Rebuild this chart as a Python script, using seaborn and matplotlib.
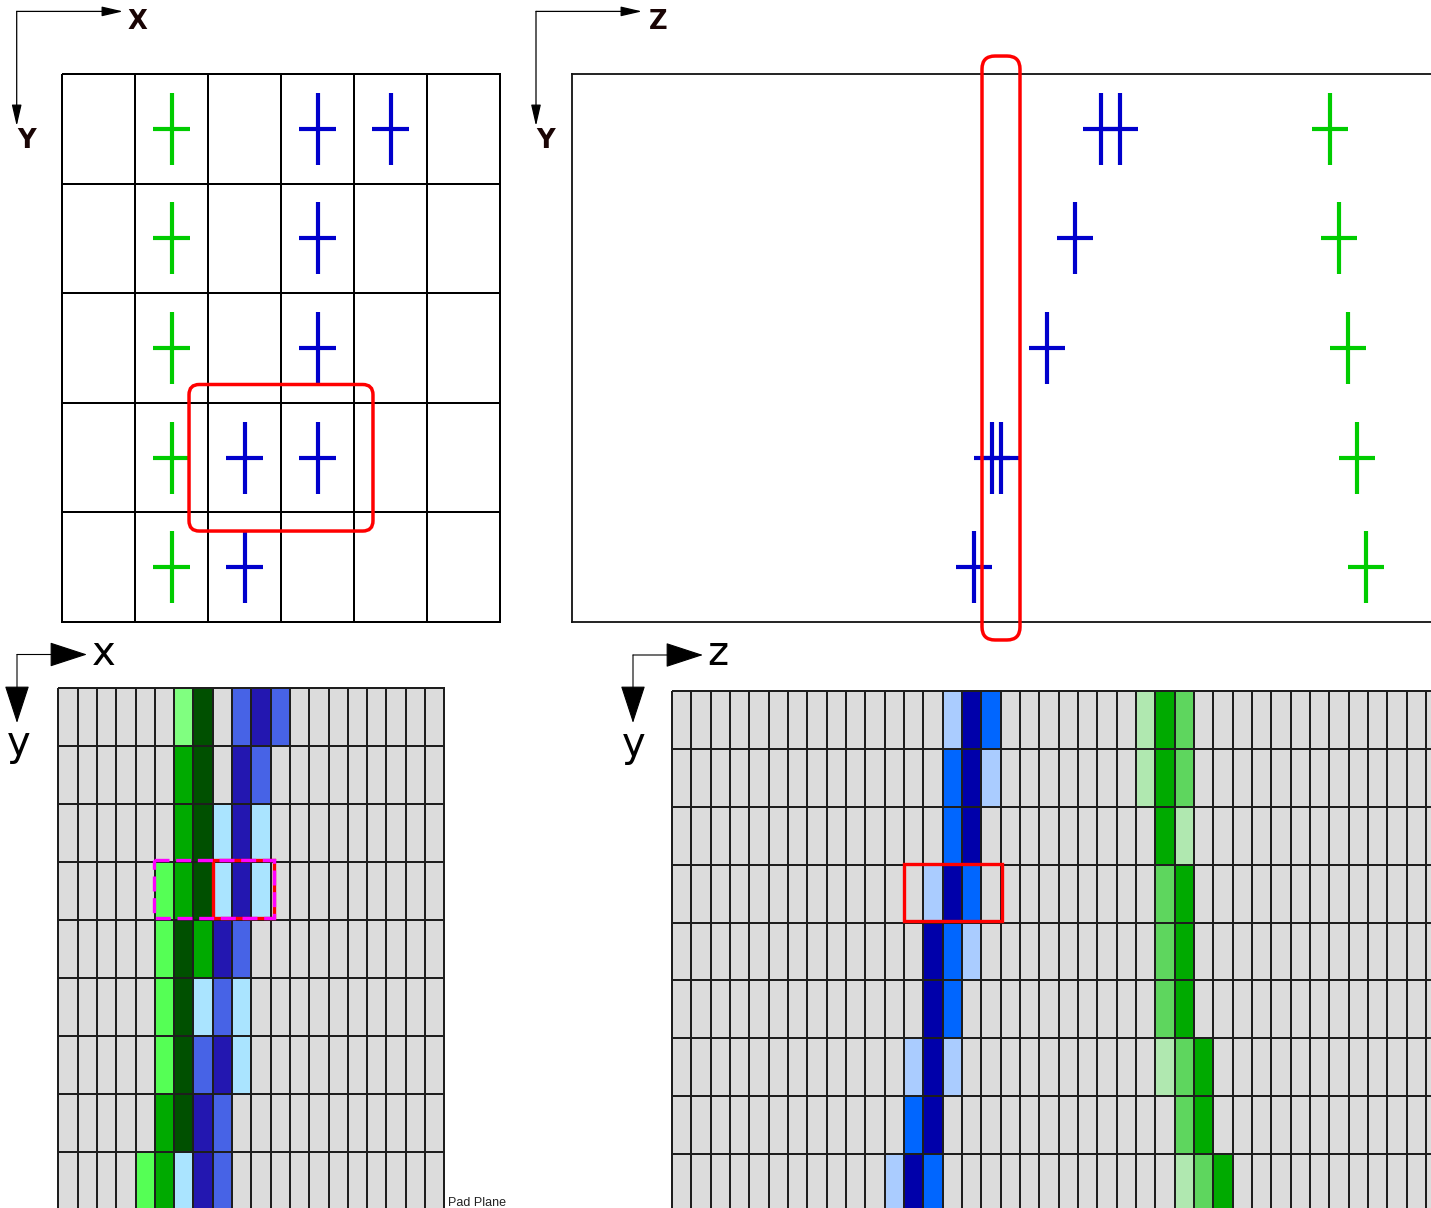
import numpy as np
import matplotlib
matplotlib.use("Agg")
import matplotlib.pyplot as plt
import seaborn as sns
from matplotlib.colors import ListedColormap
from matplotlib.patches import FancyBboxPatch, Rectangle

W, H = 1431, 1208

# top-left: hits in the x-y pad grid (column, row)
tl_green_col = [1, 1, 1, 1, 1]
tl_green_row = [0, 1, 2, 3, 4]
tl_blue_col = [3, 4, 3, 3, 2, 3, 2]
tl_blue_row = [0, 0, 1, 2, 3, 3, 4]

# top-right: same hits along z
tr_green_z = [75.8, 76.7, 77.6, 78.5, 79.4]
tr_green_row = [0, 1, 2, 3, 4]
tr_blue_z = [52.9, 54.8, 50.3, 47.5, 42.0, 42.9, 40.2]
tr_blue_row = [0, 0, 1, 2, 3, 3, 4]

# bottom-left pad plane, (row, col) per charge level
xy_light_green = [(0, 6)]
xy_bright_green = [(3, 5), (4, 5), (5, 5), (6, 5), (8, 4)]
xy_green = [(1, 6), (2, 6), (3, 6), (4, 7), (7, 5), (8, 5)]
xy_dark_green = [(0, 7), (1, 7), (2, 7), (3, 7), (4, 6), (5, 6), (6, 6), (7, 6)]
xy_light_cyan = [(2, 8), (2, 10), (3, 8), (3, 10), (5, 7), (5, 9), (6, 9), (8, 6)]
xy_blue = [(0, 9), (0, 11), (1, 10), (4, 9), (5, 8), (6, 7), (7, 8), (8, 8)]
xy_indigo = [(0, 10), (1, 9), (2, 9), (3, 9), (4, 8), (6, 8), (7, 7), (8, 7)]

# bottom-right z-y view, (row, col) per charge level
zy_light_blue = [(0, 14), (1, 16), (3, 13), (4, 15), (6, 12), (6, 14), (8, 11)]
zy_azure = [(0, 16), (1, 14), (2, 14), (3, 15), (4, 14), (5, 14), (7, 12), (8, 13)]
zy_navy = [(0, 15), (1, 15), (2, 15), (3, 14), (4, 13), (5, 13), (6, 13), (7, 13), (8, 12)]
zy_pale_green = [(0, 24), (1, 24), (2, 26), (6, 25), (8, 26)]
zy_mid_green = [(0, 26), (1, 26), (3, 25), (4, 25), (5, 25), (6, 26), (7, 26), (8, 27)]
zy_green = [(0, 25), (1, 25), (2, 25), (3, 26), (4, 26), (5, 26), (6, 27), (7, 27), (8, 28)]

sns.set_style("white")
plt.rcParams["font.family"] = ["DejaVu Sans"]

fig = plt.figure(figsize=(W / 100, H / 100), dpi=100)


def add_ax(left, top, right, bottom):
    return fig.add_axes([left / W, 1 - bottom / H, (right - left) / W, (bottom - top) / H])


def arrow(ax, start, end, style, ms, lw):
    ax.annotate("", xy=(end[0], H - end[1]), xytext=(start[0], H - start[1]),
                xycoords="figure pixels", textcoords="figure pixels",
                arrowprops=dict(arrowstyle=style, color="black", lw=lw,
                                shrinkA=0, shrinkB=0, mutation_scale=ms),
                annotation_clip=False)


def label(x, y, s, **kw):
    fig.text(x / W, 1 - y / H, s, **kw)


def fill(shape, groups):
    grid = np.zeros(shape, dtype=int)
    for code, cells in enumerate(groups, start=1):
        for r, c in cells:
            grid[r, c] = code
    return grid


cross_green = "#00CC00"
cross_blue = "#0000CC"
cross_lw = 3.0

# ---- top-left: x-y pads with hits
ax_tl = add_ax(62, 74, 500, 622)
sns.heatmap(np.zeros((5, 6)), ax=ax_tl, cmap=ListedColormap(["white"]), cbar=False,
            linewidths=1.1, linecolor="black", xticklabels=False, yticklabels=False)
ax_tl.collections[0].set_clip_on(False)
ax_tl.errorbar(np.array(tl_green_col) + 0.5, np.array(tl_green_row) + 0.5,
               xerr=0.247, yerr=0.328, fmt="none", ecolor=cross_green, elinewidth=cross_lw, capsize=0)
ax_tl.errorbar(np.array(tl_blue_col) + 0.5, np.array(tl_blue_row) + 0.5,
               xerr=0.247, yerr=0.328, fmt="none", ecolor=cross_blue, elinewidth=cross_lw, capsize=0)
ax_tl.add_patch(FancyBboxPatch((1.74, 2.833), 2.52, 1.337,
                               boxstyle="round,pad=0,rounding_size=0.14", mutation_aspect=0.667,
                               fill=False, edgecolor="#FF0000", lw=2.5, zorder=5, clip_on=False))

# ---- top-right: z-y projection
ax_tr = add_ax(572, 74, 1500, 622)
ax_tr.set_xlim(0, 92.8)
ax_tr.set_ylim(5, 0)
ax_tr.set_xticks([])
ax_tr.set_yticks([])
for sp in ax_tr.spines.values():
    sp.set_visible(True)
    sp.set_color("#111111")
    sp.set_linewidth(1.3)
ax_tr.errorbar(tr_green_z, np.array(tr_green_row) + 0.5, xerr=1.8, yerr=0.328,
               fmt="none", ecolor=cross_green, elinewidth=cross_lw, capsize=0)
ax_tr.errorbar(tr_blue_z, np.array(tr_blue_row) + 0.5, xerr=1.8, yerr=0.328,
               fmt="none", ecolor=cross_blue, elinewidth=cross_lw, capsize=0)
ax_tr.add_patch(FancyBboxPatch((41.0, -0.164), 3.8, 5.328,
                               boxstyle="round,pad=0,rounding_size=1.3", mutation_aspect=0.0915,
                               fill=False, edgecolor="#FF0000", lw=2.5, zorder=5, clip_on=False))

# ---- bottom-left: pad plane charges
xy_colors = ["#DCDCDC", "#80FF80", "#55FF55", "#00AA00", "#005000", "#AAE4FF", "#4763E6", "#2317B0"]
xy_grid = fill((9, 20), [xy_light_green, xy_bright_green, xy_green, xy_dark_green,
                         xy_light_cyan, xy_blue, xy_indigo])
ax_bl = add_ax(58.3, 687.5, 444.3, 1209.5)
sns.heatmap(xy_grid, ax=ax_bl, cmap=ListedColormap(xy_colors), vmin=-0.5, vmax=len(xy_colors) - 0.5,
            cbar=False, linewidths=1.4, linecolor="#1e1e1e", xticklabels=False, yticklabels=False)
ax_bl.collections[0].set_clip_on(False)
ax_bl.add_patch(Rectangle((8.0, 2.98), 3.2, 1.0, fill=False, edgecolor="#FF0000", lw=2.4,
                          zorder=5, clip_on=False))
ax_bl.add_patch(Rectangle((4.96, 2.98), 6.24, 1.0, fill=False, edgecolor="#FF00FF", lw=2.4,
                          linestyle=(0, (4.5, 2)), zorder=6, clip_on=False))

# ---- bottom-right: z-y time buckets
zy_colors = ["#DCDCDC", "#AACCFF", "#0066FF", "#0000AA", "#B0E8B0", "#5ED65E", "#00AA00"]
zy_grid = fill((9, 40), [zy_light_blue, zy_azure, zy_navy, zy_pale_green, zy_mid_green, zy_green])
ax_br = add_ax(672, 691.4, 672 + 40 * 19.33, 691.4 + 9 * 57.8)
sns.heatmap(zy_grid, ax=ax_br, cmap=ListedColormap(zy_colors), vmin=-0.5, vmax=len(zy_colors) - 0.5,
            cbar=False, linewidths=1.4, linecolor="#1e1e1e", xticklabels=False, yticklabels=False)
ax_br.collections[0].set_clip_on(False)
ax_br.add_patch(Rectangle((12.0, 2.99), 5.05, 0.98, fill=False, edgecolor="#FF0000", lw=2.4,
                          zorder=5, clip_on=False))

# ---- axis arrows and labels
small = "-|>,head_length=0.65,head_width=0.15"
big = "-|>,head_length=2.45,head_width=0.8"
arrow(ax_tl, (16.7, 11.4), (123, 11.4), small, 20, 0.9)
arrow(ax_tl, (16.7, 11.4), (16.7, 126), small, 20, 0.9)
arrow(ax_tl, (536, 11.4), (642, 11.4), small, 20, 0.9)
arrow(ax_tl, (536, 11.4), (536, 126), small, 20, 0.9)
arrow(ax_tl, (17, 654.5), (87, 654.5), big, 10, 0.8)
arrow(ax_tl, (17, 654.5), (17, 723), big, 10, 0.8)
arrow(ax_tl, (633, 655), (703, 655), big, 10, 0.8)
arrow(ax_tl, (633, 655), (633, 723), big, 10, 0.8)

bold = dict(fontsize=18.5, fontweight="bold", color="#1a0505", ha="center", va="baseline")
label(137, 29, "X", **bold)
label(27, 147.5, "Y", **bold)
label(658, 29, "Z", **bold)
label(546, 147.5, "Y", **bold)

big_txt = dict(fontsize=29, color="black", ha="center", va="baseline")
label(104, 665, "x", **big_txt)
label(19, 755, "y", **big_txt)
label(718, 665, "z", **big_txt)
label(634, 756, "y", **big_txt)

label(448, 1206, "Pad Plane", fontsize=9, family=["Liberation Sans", "DejaVu Sans"],
      color="#222222", ha="left", va="baseline")

fig.savefig("out.png", dpi=100)
